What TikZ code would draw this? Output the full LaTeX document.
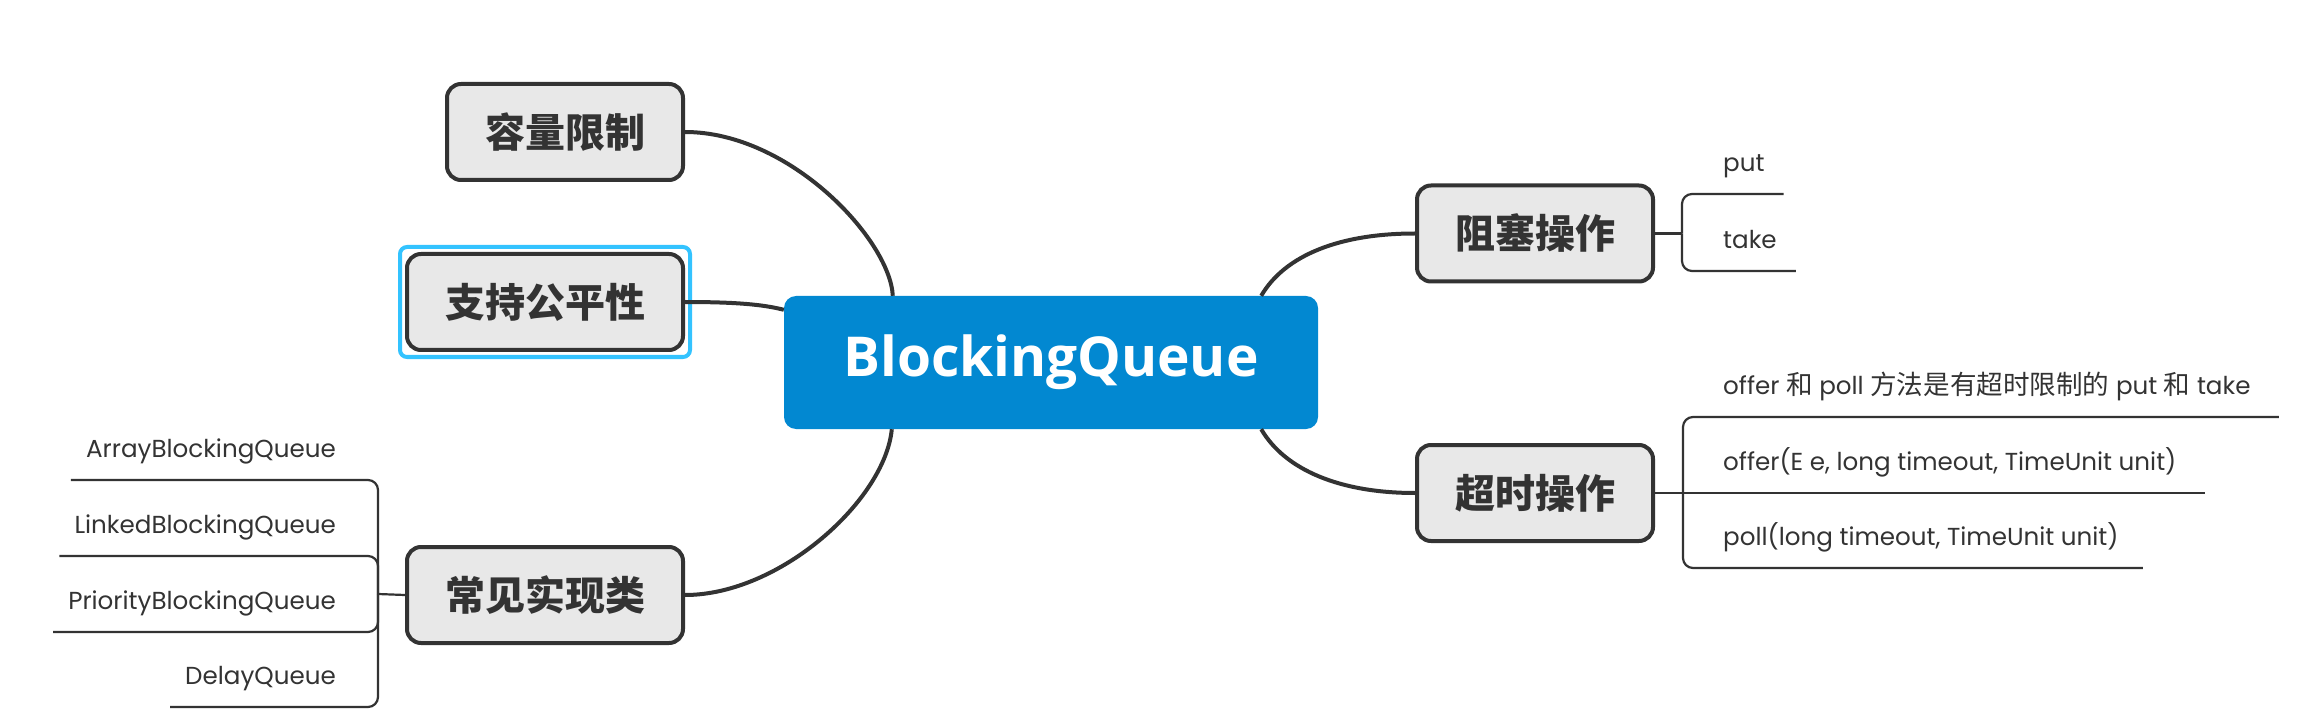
\documentclass[tikz,border=0pt]{standalone}
\usepackage{fontspec}
\setmainfont{Poppins}
\newfontfamily\cjk{Noto Sans CJK SC}
\newfontfamily\cjkleaf{Noto Sans CJK SC}[Scale=1.08]
\newfontfamily\hubfont{Open Sans}
\usetikzlibrary{calc}
\definecolor{hubblue}{HTML}{0288D1}
\definecolor{ink}{HTML}{333333}
\definecolor{boxgray}{HTML}{E8E8E8}
\definecolor{selblue}{HTML}{33C3FF}
\tikzset{
  hub/.style={fill=hubblue, rounded corners=12pt, minimum width=534pt, minimum height=133pt,
    text=white, font=\hubfont\bfseries\fontsize{55}{60}\selectfont},
  topic/.style={draw=ink, fill=boxgray, line width=4pt, rounded corners=14pt, minimum height=96pt,
    inner xsep=38pt, text=ink, font=\cjk\bfseries\fontsize{40}{44}\selectfont},
  branch/.style={draw=ink, line width=4pt},
  leaf/.style={inner xsep=0pt, inner ysep=17pt, text height=17pt, text depth=5pt, text=ink,
    font=\fontsize{24.6}{28}\selectfont},
  twig/.style={draw=ink, line width=2.2pt, rounded corners=10pt},
}
\begin{document}
\begin{tikzpicture}[x=1pt, y=-1pt]
    \useasboundingbox (0,0) rectangle (2311,727);
    \node[hub] (bq) at (1051,362.5) {BlockingQueue};
    % topics
    \node[topic, anchor=east] (cap) at (685,132) {容量限制};
    \node[topic, anchor=east] (fair) at (685,302) {支持公平性};
    \node[topic, anchor=east] (impl) at (685,595) {常见实现类};
    \node[topic, anchor=west] (block) at (1415,233.5) {阻塞操作};
    \node[topic, anchor=west] (timeout) at (1415,493) {超时操作};
    \draw[selblue, line width=4pt, rounded corners=7pt]
        ($(fair.south west)+(-5,5)$) rectangle ($(fair.north east)+(5,-5)$);
    \coordinate (bqCap) at ($(bq.north west)+(109,0)$);
    \coordinate (bqFair) at ($(bq.north west)+(0,14)$);
    \coordinate (bqImpl) at ($(bq.south west)+(108,0)$);
    \coordinate (bqBlock) at ($(bq.north east)+(-57,0)$);
    \coordinate (bqTime) at ($(bq.south east)+(-57,0)$);
    \draw[branch] (cap.east) .. controls (790,132) and (890,240) .. (bqCap);
    \draw[branch] (fair.east) .. controls (740,302) and (765,305) .. (bqFair);
    \draw[branch] (impl.east) .. controls (780,595) and (885,500) .. (bqImpl);
    \draw[branch] (bqBlock) .. controls (1285,255) and (1340,233.5) .. (block.west);
    \draw[branch] (bqTime) .. controls (1285,470) and (1340,493) .. (timeout.west);
    % leaves of 阻塞操作
    \coordinate (blockJ) at (1682,233.5);
    \node[leaf, anchor=south west] (put) at (1723,194) {put};
    \node[leaf, anchor=south west] (take) at (1723,271) {take};
    \draw[twig] (block.east) -- (blockJ);
    \draw[twig] (blockJ) |- (put.south east) -- ++(19,0);
    \draw[twig] (blockJ) |- (take.south east) -- ++(19,0);
    % leaves of 超时操作
    \coordinate (timeJ) at (1683,493);
    \node[leaf, anchor=south west] (note) at (1723,417)
        {offer {\cjkleaf 和} poll {\cjkleaf 方法是有超时限制的} put {\cjkleaf 和} take};
    \node[leaf, anchor=south west] (offer) at (1723,493) {offer(E e, long timeout, TimeUnit unit)};
    \node[leaf, anchor=south west] (poll) at (1723,568) {poll(long timeout, TimeUnit unit)};
    \draw[twig] (timeout.east) -- (timeJ);
    \draw[twig] (timeJ) |- (note.south east) -- ++(28,0);
    \draw[twig] (timeJ) -- ($(offer.south east)+(28,0)$);
    \draw[twig] (timeJ) |- (poll.south east) -- ++(24,0);
    % leaves of 常见实现类
    \coordinate (implJ) at (378,594);
    \node[leaf, anchor=south east] (abq) at (336,480) {ArrayBlockingQueue};
    \node[leaf, anchor=south east] (lbq) at (336,556) {LinkedBlockingQueue};
    \node[leaf, anchor=south east] (pbq) at (336,632) {PriorityBlockingQueue};
    \node[leaf, anchor=south east] (dq) at (336,707) {DelayQueue};
    \draw[twig] (impl.west) -- (implJ);
    \foreach \q in {abq,lbq,pbq,dq}
        \draw[twig] (implJ) |- (\q.south west) -- ++(-15,0);
\end{tikzpicture}
\end{document}
